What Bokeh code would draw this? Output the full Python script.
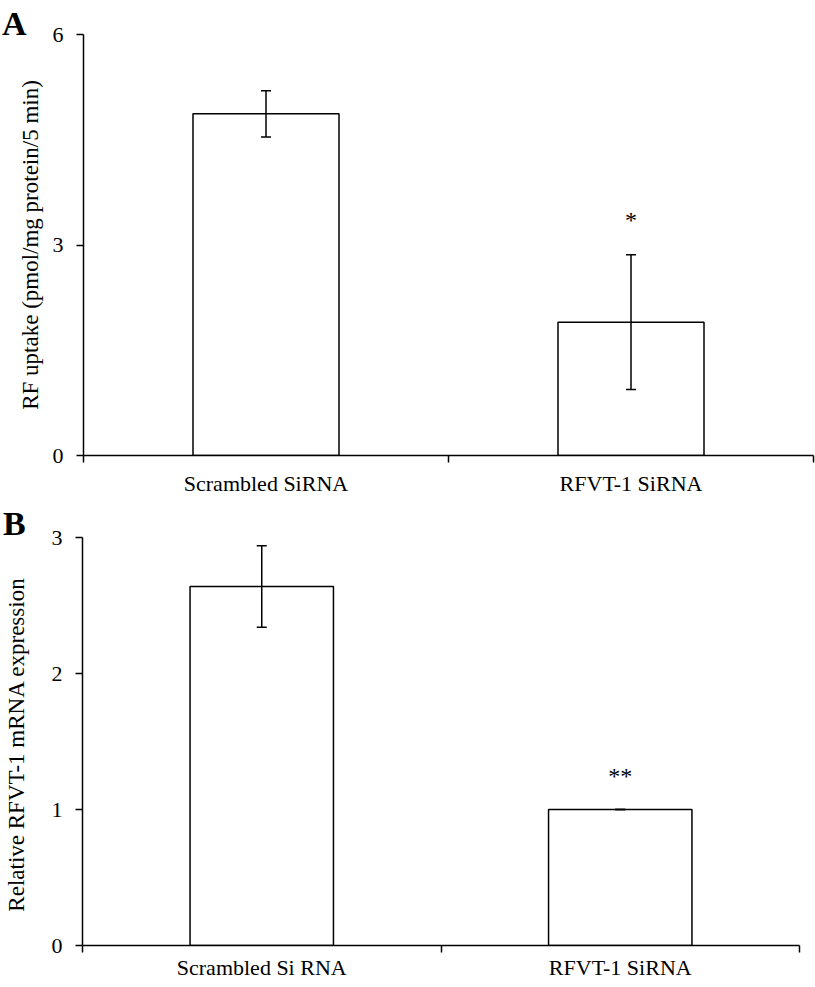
import numpy as np
from bokeh.plotting import figure
from bokeh.models import ColumnDataSource, Whisker, TeeHead, FixedTicker, Range1d, Div
from bokeh.embed import file_html
from bokeh.resources import INLINE
from bokeh.core.properties import value

# ---- Panel A data ----
a_categories = ["Scrambled SiRNA", "RFVT-1 SiRNA"]
a_values = [4.87, 1.90]
a_errors = [0.33, 0.96]
a_sig = ["", "*"]
a_sig_y = [0.0, 3.35]
a_yticks = [0, 3, 6]
a_ylabel = "RF uptake (pmol/mg protein/5 min)"

# ---- Panel B data ----
b_categories = ["Scrambled Si RNA", "RFVT-1 SiRNA"]
b_values = [2.64, 1.00]
b_errors = [0.30, 0.0]
b_sig = ["", "**"]
b_sig_y = [0.0, 1.25]
b_yticks = [0, 1, 2, 3]
b_ylabel = "Relative RFVT-1 mRNA  expression"

FONT = "Liberation Serif"


def make_letter(text, left, top):
    return Div(text=text, width=40, height=40,
               styles={"position": "absolute", "left": f"{left}px", "top": f"{top}px",
                       "z-index": "10", "margin": "0", "padding": "0",
                       "font-family": FONT, "font-size": "34px", "font-weight": "bold",
                       "line-height": "1", "color": "black"})


def make_panel(categories, values, errors, sig, sig_y, yticks, ylabel,
               height, b_left, b_right, b_top, b_bottom, xstandoff, ystandoff):
    xs = np.arange(len(categories)) + 0.5
    vals = np.array(values)
    errs = np.array(errors)
    src = ColumnDataSource(dict(x=xs, top=vals, upper=vals + errs, lower=vals - errs,
                                sig=sig, sy=sig_y))
    p = figure(width=815, height=height,
               x_range=Range1d(0, len(categories)), y_range=Range1d(0, yticks[-1]),
               output_backend="svg", toolbar_location=None,
               min_border_left=b_left, min_border_right=b_right,
               min_border_top=b_top, min_border_bottom=b_bottom)
    p.outline_line_color = None
    p.grid.visible = False
    p.background_fill_color = "white"

    p.vbar(x="x", top="top", width=0.4, source=src, fill_color="white",
           line_color="black", line_width=1.5)
    wh = Whisker(base="x", upper="upper", lower="lower", source=src,
                 line_color="black", line_width=1.5, level="overlay",
                 upper_head=TeeHead(size=10, line_color="black", line_width=1.5),
                 lower_head=TeeHead(size=10, line_color="black", line_width=1.5))
    p.add_layout(wh)
    p.text(x="x", y="sy", text="sig", source=src, text_font=value(FONT),
           text_font_size="24px", text_align="center", text_baseline="alphabetic",
           text_color="black")

    xa = p.xaxis[0]
    xa.ticker = FixedTicker(ticks=list(xs), minor_ticks=list(range(len(categories) + 1)))
    xa.major_label_overrides = {float(x): c for x, c in zip(xs, categories)}
    xa.major_tick_out = 0
    xa.major_tick_in = 0
    xa.minor_tick_out = 7
    xa.minor_tick_in = 0
    xa.minor_tick_line_color = "black"
    xa.minor_tick_line_width = 1.5
    xa.axis_line_color = "black"
    xa.axis_line_width = 1.5
    xa.major_label_text_font = FONT
    xa.major_label_text_font_size = "22px"
    xa.major_label_text_color = "black"
    xa.major_label_standoff = xstandoff

    ya = p.yaxis[0]
    ya.ticker = FixedTicker(ticks=yticks, minor_ticks=[])
    ya.major_tick_out = 7
    ya.major_tick_in = 0
    ya.major_tick_line_color = "black"
    ya.major_tick_line_width = 1.5
    ya.axis_line_color = "black"
    ya.axis_line_width = 1.5
    ya.major_label_text_font = FONT
    ya.major_label_text_font_size = "22px"
    ya.major_label_text_color = "black"
    ya.major_label_standoff = 13
    ya.axis_label = ylabel
    ya.axis_label_text_font = FONT
    ya.axis_label_text_font_size = "23px"
    ya.axis_label_text_font_style = "normal"
    ya.axis_label_text_color = "black"
    ya.axis_label_standoff = ystandoff
    return p


pA = make_panel(a_categories, a_values, a_errors, a_sig, a_sig_y, a_yticks, a_ylabel,
                height=498, b_left=83, b_right=2, b_top=34, b_bottom=41,
                xstandoff=8, ystandoff=7)
pB = make_panel(b_categories, b_values, b_errors, b_sig, b_sig_y, b_yticks, b_ylabel,
                height=488, b_left=81, b_right=16, b_top=39, b_bottom=41,
                xstandoff=2, ystandoff=20)

letterA = make_letter("A", 2, 7)
letterB = make_letter("B", 3, 507)

open("out.html", "w").write(file_html([pA, pB, letterA, letterB], INLINE))
